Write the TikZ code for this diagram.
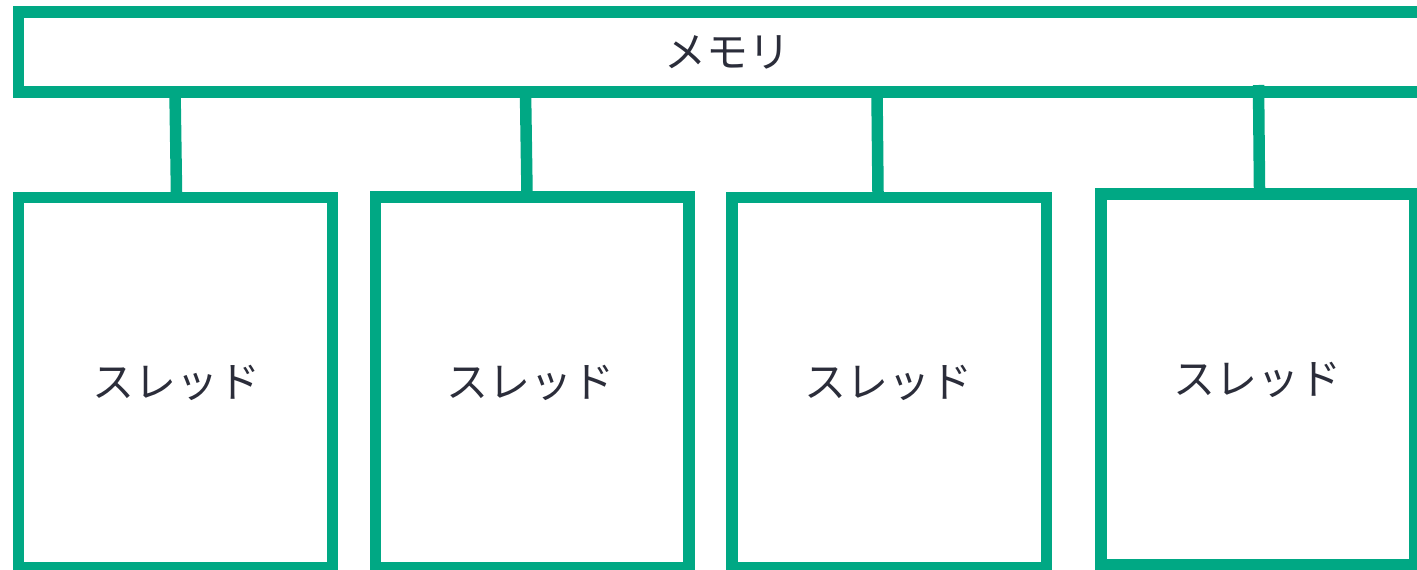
\documentclass[tikz,border=0pt]{standalone}
\usepackage{fontspec}
\newfontfamily\jpfont{Noto Sans CJK JP}
\definecolor{boxgreen}{HTML}{00A884}
\definecolor{textdark}{HTML}{2B2D3A}
\begin{document}
\begin{tikzpicture}[x=1pt,y=1pt,
  box/.style={draw=boxgreen, line width=11.5pt, rectangle, inner sep=0pt, outer sep=0pt,
    text=textdark, font=\jpfont\fontsize{42}{50}\selectfont},
  link/.style={draw=boxgreen, line width=11.5pt}]
\useasboundingbox (0,0) rectangle (1417,-570);
\clip (0,0) rectangle (1417,-570);
\node[box, minimum width=1417pt, minimum height=80pt] (mem) at (727,-52) {メモリ};
\node[box, minimum width=314pt, minimum height=370pt] (t1) at (175.5,-382.5) {};
\node[box, minimum width=313.5pt, minimum height=370.5pt] (t2) at (532.25,-382.25) {};
\node[box, minimum width=314.5pt, minimum height=370pt] (t3) at (889.25,-382.5) {};
\node[box, minimum width=314pt, minimum height=370.5pt] (t4) at (1258,-379.25) {};
\node[text=textdark, font=\jpfont\fontsize{42}{50}\selectfont] (l1) at (176,-383) {スレッド};
\node[text=textdark, font=\jpfont\fontsize{42}{50}\selectfont] (l2) at (530,-383) {スレッド};
\node[text=textdark, font=\jpfont\fontsize{42}{50}\selectfont] (l3) at (888,-383) {スレッド};
\node[text=textdark, font=\jpfont\fontsize{42}{50}\selectfont] (l4) at (1257,-380) {スレッド};
\coordinate (c1) at (175,-92);
\coordinate (c2) at (525.5,-92);
\coordinate (c3) at (877,-92);
\coordinate (c4) at (1258.5,-85);
\coordinate (d1) at (176.5,-192);
\coordinate (d2) at (527,-192);
\coordinate (d3) at (878,-192);
\coordinate (d4) at (1259.5,-188);
\draw[link] (c1) -- (d1);
\draw[link] (c2) -- (d2);
\draw[link] (c3) -- (d3);
\draw[link] (c4) -- (d4);
\end{tikzpicture}
\end{document}
